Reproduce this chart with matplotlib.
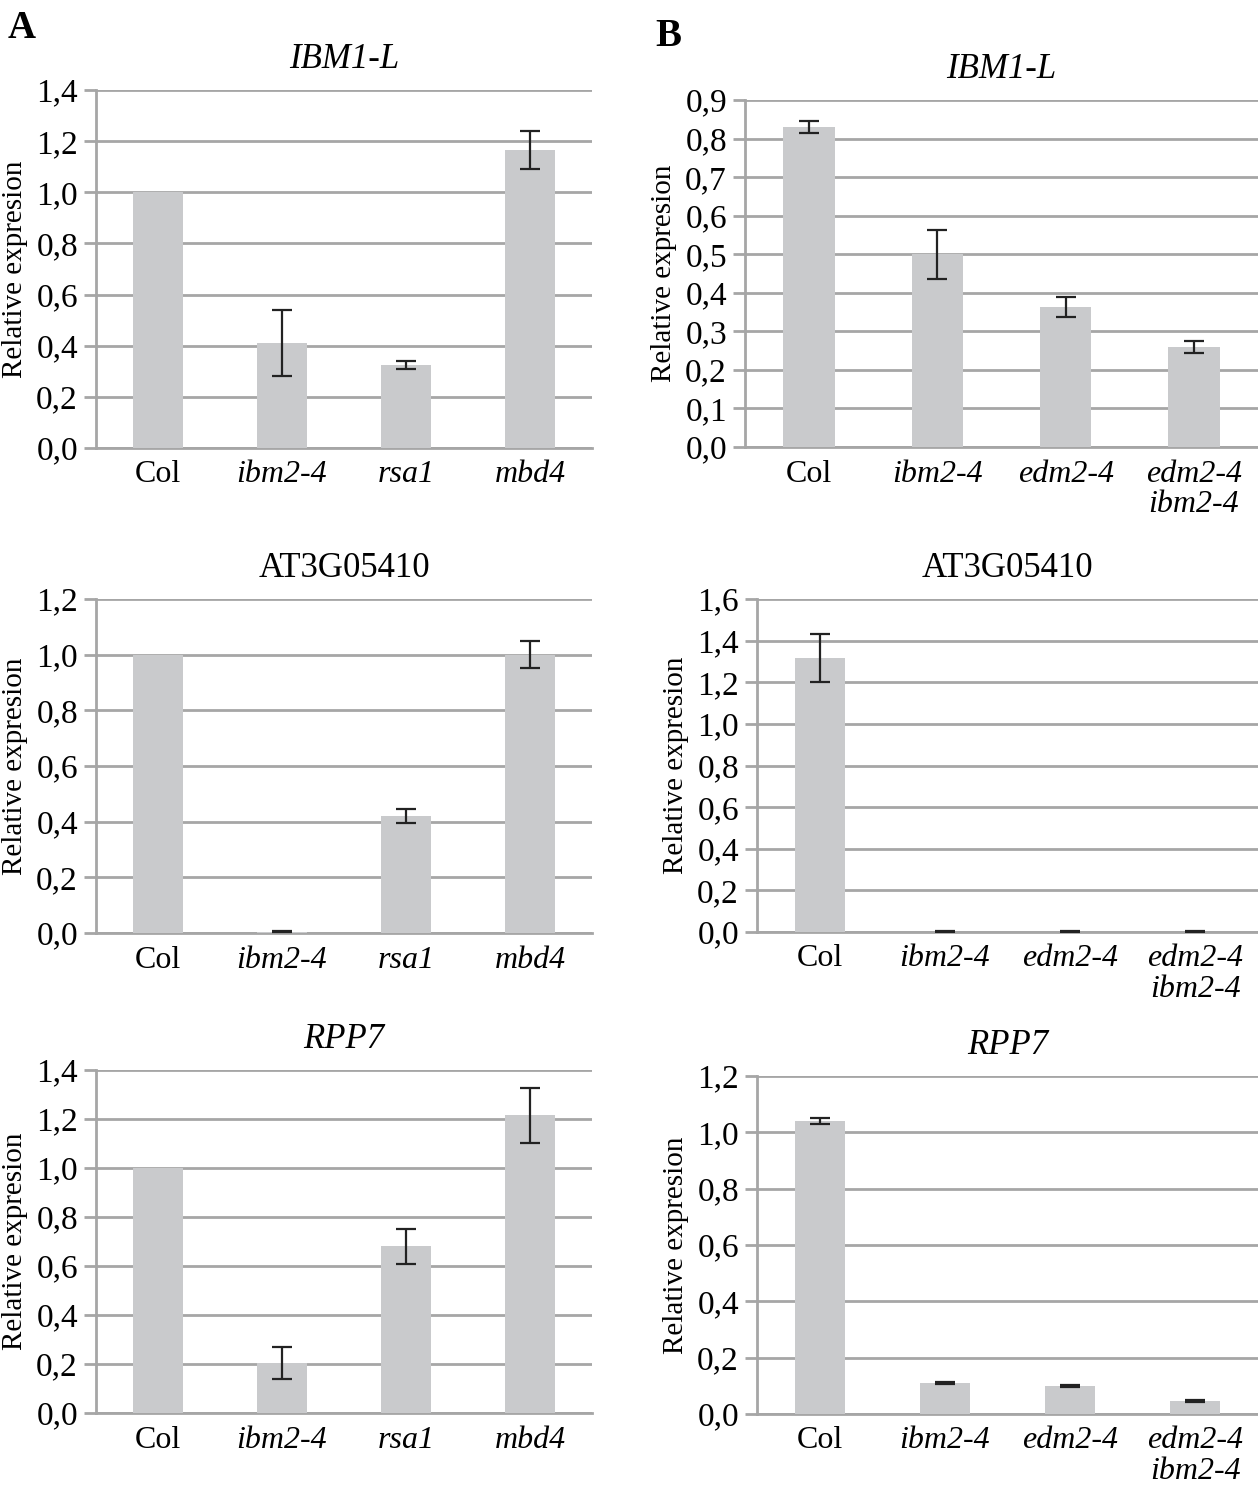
import matplotlib
matplotlib.use("Agg")
from matplotlib import pyplot as plt
import numpy as np

plt.rcParams['font.family'] = ['Liberation Serif', 'DejaVu Serif']

# categories
cats_a = ['Col', 'ibm2-4', 'rsa1', 'mbd4']
cats_b = ['Col', 'ibm2-4', 'edm2-4', 'edm2-4\nibm2-4']

# panel A values (mean, error); Col is the reference, no error bar
a_ibm1 = [1.00, 0.41, 0.325, 1.165]
a_ibm1_err = [0.0, 0.13, 0.017, 0.075]
a_at3g = [1.00, 0.005, 0.42, 1.00]
a_at3g_err = [0.0, 0.003, 0.025, 0.048]
a_rpp7 = [1.00, 0.205, 0.68, 1.215]
a_rpp7_err = [0.0, 0.065, 0.07, 0.113]

# panel B values (mean, error)
b_ibm1 = [0.83, 0.50, 0.363, 0.26]
b_ibm1_err = [0.015, 0.063, 0.027, 0.015]
b_at3g = [1.315, 0.002, 0.002, 0.002]
b_at3g_err = [0.115, 0.001, 0.001, 0.001]
b_rpp7 = [1.04, 0.11, 0.10, 0.045]
b_rpp7_err = [0.012, 0.002, 0.003, 0.003]

W, H = 1258, 1486
fig = plt.figure(figsize=(W / 100, H / 100), dpi=100)

grid_col = '#a6a6a6'
bar_col = '#c9cacc'


def panel(rect, cats, vals, errs, title, title_italic, ymax, ystep):
    l, t, r, b = rect
    ax = fig.add_axes([l / W, 1 - b / H, (r - l) / W, (b - t) / H])
    x = np.arange(len(cats))
    ax.bar(x, vals, width=0.4, color=bar_col, zorder=3)
    vals = np.array(vals)
    errs = np.array(errs)
    m = errs > 0
    ax.errorbar(x[m], vals[m], yerr=errs[m], fmt='none', ecolor='#222222',
                elinewidth=1.6, capsize=7, capthick=1.6, zorder=4)
    ax.set_xlim(-0.5, len(cats) - 0.5)
    ax.set_ylim(0, ymax)
    ticks = np.round(np.arange(0, ymax + ystep / 2, ystep), 2)
    ax.set_yticks(ticks)
    ax.set_yticklabels([('%.1f' % v).replace('.', ',') for v in ticks], fontsize=24)
    ax.yaxis.grid(True, color=grid_col, lw=2)
    ax.set_axisbelow(True)
    for s in ['top', 'right']:
        ax.spines[s].set_visible(False)
    for s in ['left', 'bottom']:
        ax.spines[s].set_color(grid_col)
        ax.spines[s].set_linewidth(2)
    ax.tick_params(axis='y', direction='out', length=9, width=2, color=grid_col, pad=4)
    ax.tick_params(axis='x', length=0, pad=9)
    ax.set_xticks(x)
    ax.set_xticklabels(cats, fontsize=23, linespacing=1.05, va='top')
    for i, lab in enumerate(ax.get_xticklabels()):
        if cats[i] != 'Col':
            lab.set_style('italic')
    ax.set_ylabel('Relative expresion', fontsize=21, labelpad=6)
    ax.set_title(title, fontsize=25, style='italic' if title_italic else 'normal', pad=16)
    return ax


panel((96, 90, 592, 448), cats_a, a_ibm1, a_ibm1_err, 'IBM1-L', True, 1.4, 0.2)
panel((96, 599, 592, 933), cats_a, a_at3g, a_at3g_err, 'AT3G05410', False, 1.2, 0.2)
panel((96, 1070, 592, 1413), cats_a, a_rpp7, a_rpp7_err, 'RPP7', True, 1.4, 0.2)

panel((745, 100, 1258, 447), cats_b, b_ibm1, b_ibm1_err, 'IBM1-L', True, 0.9, 0.1)
panel((757, 599, 1258, 932), cats_b, b_at3g, b_at3g_err, 'AT3G05410', False, 1.6, 0.2)
panel((757, 1076, 1258, 1414), cats_b, b_rpp7, b_rpp7_err, 'RPP7', True, 1.2, 0.2)

fig.text(8 / W, 1 - 28 / H, 'A', fontsize=28, fontweight='bold', va='center')
fig.text(655 / W, 1 - 37 / H, 'B', fontsize=28, fontweight='bold', va='center')

fig.savefig('out.png', dpi=100, facecolor='white')
